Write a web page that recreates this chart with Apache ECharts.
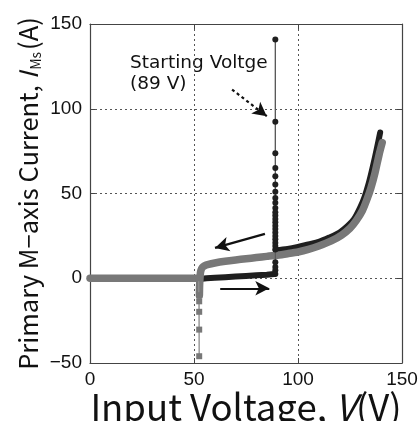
<!DOCTYPE html>
<html>
<head>
<meta charset="utf-8">
<script src="https://cdn.jsdelivr.net/npm/echarts@6/dist/echarts.min.js"></script>
<style>
  html, body { margin: 0; padding: 0; background: #fff; }
  #chart { width: 420px; height: 421px; }
</style>
</head>
<body>
<div id="chart"></div>
<script>
// ---- Data ----
// Up-sweep (black), lower branch before start
var upLowV = [0, 10, 20, 30, 40, 50, 52, 53, 56, 60, 65, 70, 75, 80, 85, 88.5];
var upLowI = [0, 0, 0, 0, 0, 0, 0, -0.5, 0, 0.3, 0.6, 1, 1.3, 1.7, 2.1, 2.5];
// Up-sweep at starting voltage (89 V): current samples
var spikeV = 89.1;
var spikeI = [2.5, 4.7, 6.7, 9.5, 140.8, 92.3, 73.7, 65.1, 60.2, 55.3, 51, 47.4, 44.5, 41.5, 39, 37, 35, 33, 31, 29, 27, 25, 23, 21, 19, 17];
// Up-sweep after start
var upHighV = [89.3, 95, 100, 105, 110, 115, 120, 124, 127, 130, 132, 134, 136, 138, 139.5];
var upHighI = [16.5, 17.3, 18.5, 20, 21.5, 24, 27, 31, 35, 42, 48, 56, 66, 77, 86];
// Down-sweep (gray)
var downV = [140.5, 139, 137, 135, 133, 131, 128, 125, 121, 116, 110, 105, 100, 95, 90, 85, 80, 75, 70, 65, 60, 57, 55, 54, 53.3, 53, 52.7, 52.6];
var downI = [80, 73, 62, 53, 46, 40, 34, 29.5, 25.5, 22, 19, 17, 15.5, 14.5, 13.6, 12.9, 12.2, 11.5, 10.8, 10, 9, 8.2, 7.3, 6.3, 4.5, 2, -4, -10];
// Down-sweep drop-out samples
var dropV = [52.6, 52.5, 52.5, 52.5, 52.5, 52.3];
var dropI = [-10, -13.6, -19.8, -30.3, -46, 0];
// Down-sweep after stop
var offV = [52.3, 40, 30, 20, 10, 0];
var offI = [0, 0, 0, 0, 0, 0];
// Axis ticks
var xTicks = [0, 50, 100, 150];
var yTicks = [-50, 0, 50, 100, 150];
// Annotation arrows (data coordinates)
var arrowStart = [[68.3, 111.3], [84.1, 26.2], [62.6, -5.9]];
var arrowEnd = [[85.0, 95.6], [60.1, 17.9], [86.2, -5.9]];

function zip(xs, ys) { return xs.map(function (x, i) { return [x, ys[i]]; }); }

var BLACK = '#1f1f1f', GRAY = '#787878';
var FONT = 'Noto Sans CJK JP';
var chart = echarts.init(document.getElementById('chart'), null, { renderer: 'canvas' });

var axisCommon = {
  type: 'value',
  axisLine: { show: true, onZero: false, lineStyle: { color: '#444', width: 1.2 } },
  axisTick: { show: true, inside: true, length: 5, lineStyle: { color: '#444' } },
  splitLine: { show: false }
};

chart.setOption({
  animation: false,
  backgroundColor: '#fff',
  grid: { left: 90, right: 18, top: 24, bottom: 58, outerBoundsMode: 'none', containLabel: false },
  xAxis: [
    Object.assign({}, axisCommon, {
      min: xTicks[0], max: xTicks[xTicks.length - 1], interval: 50,
      axisLabel: { fontSize: 19, color: '#111', fontFamily: 'Liberation Sans', margin: 7 },
      splitLine: { show: true, lineStyle: { color: '#555', type: [2, 3], width: 1 } },
      name: '{n|Input Voltage, }{i|V}{n|(V)}',
      nameLocation: 'middle', nameGap: 26, nameMoveOverlap: false,
      nameTextStyle: {
        rich: {
          n: { fontSize: 36.5, fontFamily: FONT, color: '#111' },
          i: { fontSize: 36.5, fontFamily: FONT, fontStyle: 'italic', color: '#111' }
        }
      }
    }),
    Object.assign({}, axisCommon, {
      position: 'top', min: 0, max: 150, interval: 50,
      axisLabel: { show: false }
    })
  ],
  yAxis: [
    Object.assign({}, axisCommon, {
      min: yTicks[0], max: yTicks[yTicks.length - 1], interval: 50,
      axisLabel: {
        fontSize: 19, color: '#111', fontFamily: 'Liberation Sans', margin: 8,
        formatter: function (v) { return v < 0 ? '\u2212' + Math.abs(v) : String(v); }
      },
      splitLine: { show: true, lineStyle: { color: '#555', type: [2, 3], width: 1 } },
      name: '{n|Primary M\u2212axis Current, }{i|I}{s|Ms}{n|(A)}',
      nameLocation: 'middle', nameGap: 47, nameRotate: 90, nameMoveOverlap: false,
      nameTextStyle: {
        rich: {
          n: { fontSize: 25.5, fontFamily: FONT, color: '#111', lineHeight: 30 },
          i: { fontSize: 25.5, fontFamily: FONT, fontStyle: 'italic', color: '#111', lineHeight: 30 },
          s: { fontSize: 14, fontFamily: FONT, color: '#111', verticalAlign: 'bottom', lineHeight: 30, padding: [13, 2, 0, 2] }
        }
      }
    }),
    Object.assign({}, axisCommon, {
      position: 'right', min: -50, max: 150, interval: 50,
      axisLabel: { show: false }
    })
  ],
  series: [
    {
      name: 'up-low', type: 'line', data: zip(upLowV, upLowI), showSymbol: false, z: 2,
      lineStyle: { color: BLACK, width: 6, cap: 'round', join: 'round' }
    },
    {
      name: 'up-high', type: 'line', data: zip(upHighV, upHighI), showSymbol: false, z: 2, smooth: 0.3,
      lineStyle: { color: BLACK, width: 6, cap: 'round', join: 'round' }
    },
    {
      name: 'down', type: 'line', data: zip(downV, downI), showSymbol: false, z: 3, smooth: 0.2,
      lineStyle: { color: GRAY, width: 7.5, cap: 'round', join: 'round' }
    },
    {
      name: 'off', type: 'line', data: zip(offV, offI), showSymbol: false, z: 3,
      lineStyle: { color: GRAY, width: 7.5, cap: 'round', join: 'round' }
    },
    {
      name: 'drop', type: 'line', data: zip(dropV, dropI), z: 4,
      symbol: 'rect', symbolSize: 6, showAllSymbol: true,
      itemStyle: { color: GRAY },
      lineStyle: { color: '#999', width: 1 }
    },
    {
      name: 'spike', type: 'line', data: spikeI.map(function (y) { return [spikeV, y]; }), z: 5,
      symbol: 'circle', symbolSize: 6, showAllSymbol: true,
      itemStyle: { color: BLACK },
      lineStyle: { color: '#555', width: 1 },
      markLine: {
        silent: true, symbol: ['none', 'arrow'], symbolSize: [11, 14],
        label: { show: false },
        data: [
          [{ coord: arrowStart[0], lineStyle: { type: [3, 3], width: 2.2, color: '#111' } }, { coord: arrowEnd[0] }],
          [{ coord: arrowStart[1], lineStyle: { type: 'solid', width: 2.2, color: '#111' } }, { coord: arrowEnd[1] }],
          [{ coord: arrowStart[2], lineStyle: { type: 'solid', width: 2.2, color: '#111' } }, { coord: arrowEnd[2] }]
        ]
      }
    }
  ],
  graphic: [
    { type: 'text', left: 130, top: 54, style: { text: 'Starting Voltge', fontSize: 18.5, fontFamily: 'DejaVu Sans', fill: '#111' } },
    { type: 'text', left: 130, top: 75, style: { text: '(89 V)', fontSize: 18.5, fontFamily: 'DejaVu Sans', fill: '#111' } }
  ]
});
</script>
</body>
</html>
